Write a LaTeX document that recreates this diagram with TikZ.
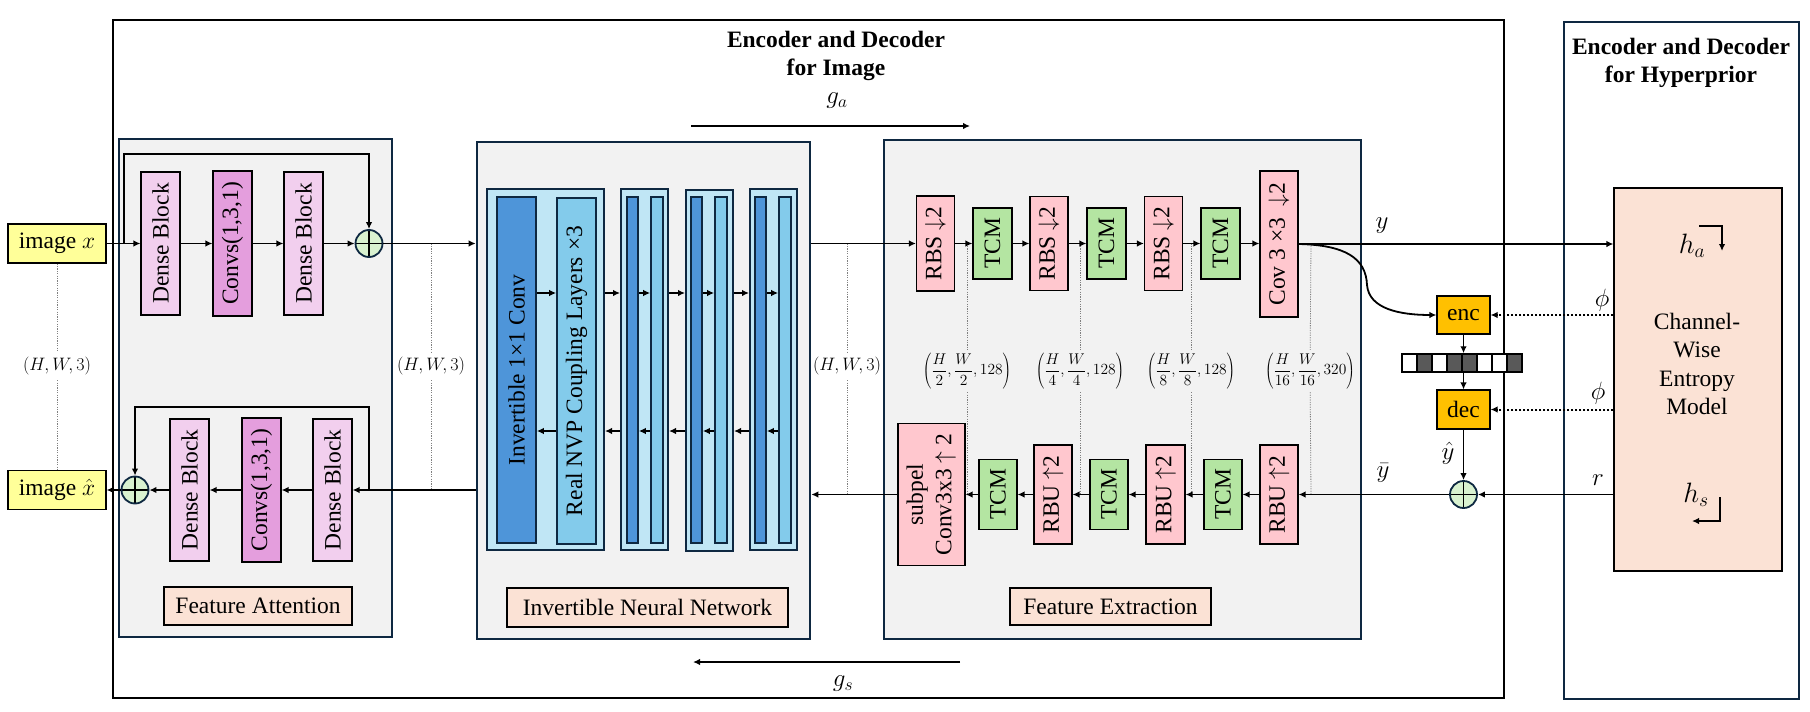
\documentclass[tikz,border=0pt]{standalone}
\usepackage{fix-cm}
\usepackage{graphicx}
\usepackage{fontspec}
\setmainfont{Liberation Serif}
\usetikzlibrary{arrows.meta}
\definecolor{navy}{HTML}{0E2841}
\definecolor{panelgray}{HTML}{F2F2F2}
\definecolor{dbpink}{HTML}{F2CFEE}
\definecolor{cvpink}{HTML}{E49EDD}
\definecolor{imgyel}{HTML}{FFFF99}
\definecolor{plusgreen}{HTML}{D9F2D0}
\definecolor{grpblue}{HTML}{C0E6F5}
\definecolor{darkblue}{HTML}{4E95D9}
\definecolor{midblue}{HTML}{83CBEB}
\definecolor{rbspink}{HTML}{FFC7CE}
\definecolor{tcmgreen}{HTML}{B4E5A2}
\definecolor{peach}{HTML}{FBE2D5}
\definecolor{encyel}{HTML}{FFC000}
\definecolor{bitdark}{HTML}{595959}
\newcommand\myfs{\fontsize{23.5}{28.5}\selectfont}
\newcommand\mathfs{\fontsize{25}{30}\selectfont}
\newcommand\hfs{\fontsize{28}{32}\selectfont}
\newcommand\lblfs{\fontsize{18}{21}\selectfont}
\newcommand\fracfs{\fontsize{15.5}{19}\selectfont}
\newcommand\rtxt[1]{\rotatebox{90}{#1}}
\newcommand\dimfrac[3]{$\displaystyle\left(\frac{H}{#1},\frac{W}{#2},#3\right)$}
\tikzset{
  every node/.style={font=\myfs},
  arr/.style={line width=1.8pt, -{Latex[length=7pt,width=6.5pt]}},
  dotln/.style={line width=0.8pt, gray, dash pattern=on 1.2pt off 1.2pt},
  dotarr/.style={line width=2pt, dash pattern=on 2pt off 2pt, -{Latex[length=7pt,width=6.5pt]}},
  outerbox/.style={draw=black, line width=2.6pt, fill=white, inner sep=0pt},
  hyperbox/.style={draw=navy, line width=2.6pt, fill=white, inner sep=0pt},
  panel/.style={draw=navy, line width=2.6pt, fill=panelgray, inner sep=0pt},
  blk/.style={draw=black, line width=1.1pt, inner sep=0pt},
  dense/.style={blk, fill=dbpink, minimum width=39pt},
  convs/.style={blk, fill=cvpink, minimum width=39pt},
  rbs/.style={blk, fill=rbspink, minimum width=38pt},
  tcm/.style={blk, fill=tcmgreen, minimum width=39pt, minimum height=71pt},
  grp/.style={draw=navy, line width=2pt, fill=grpblue, inner sep=0pt, minimum height=361pt},
  dbar/.style={draw=navy, line width=1.6pt, fill=darkblue, inner sep=0pt, minimum height=346pt},
  lbar/.style={draw=navy, line width=1.6pt, fill=midblue, inner sep=0pt, minimum height=346pt},
  tag/.style={draw=black, line width=1.1pt, fill=peach, inner sep=0pt},
  imgbox/.style={draw=black, line width=1.1pt, fill=imgyel, minimum width=98pt, minimum height=39pt, inner sep=0pt},
  plus/.style={circle, draw=navy, line width=1.8pt, fill=plusgreen, minimum size=27pt, inner sep=0pt,
     path picture={\draw[black, line width=1.8pt] (path picture bounding box.north) -- (path picture bounding box.south) (path picture bounding box.west) -- (path picture bounding box.east);}},
  coder/.style={draw=black, line width=1.1pt, fill=encyel, minimum width=53pt, minimum height=38pt, inner sep=0pt},
  bitw/.style={draw=black, line width=1.5pt, fill=white, minimum width=15pt, minimum height=18pt, inner sep=0pt},
  bitd/.style={bitw, fill=bitdark},
  dimlbl/.style={font=\lblfs, inner sep=5pt},
  fraclbl/.style={font=\fracfs, inner sep=3pt},
  mlbl/.style={font=\mathfs, inner sep=1pt},
  title/.style={font=\myfs\bfseries, align=center},
}
\begin{document}
\begin{tikzpicture}[x=1pt,y=-1pt]
\useasboundingbox (0,0) rectangle (1810,712);

% outer frames
\node[outerbox, minimum width=1391pt, minimum height=678pt] (encbox) at (808.5,359) {};
\node[hyperbox, minimum width=235pt, minimum height=677pt] (hypbox) at (1681.5,360.5) {};
\node[title] (t1) at (836,56) {Encoder and Decoder\\for Image};
\node[title] (t2) at (1681,63) {Encoder and Decoder\\for Hyperprior};

% panels
\node[panel, minimum width=273pt, minimum height=498pt] (fa) at (255.5,388) {};
\node[panel, minimum width=333pt, minimum height=497pt] (inn) at (643.5,390.5) {};
\node[panel, minimum width=477pt, minimum height=499pt] (fe) at (1122.5,389.5) {};

% image boxes
\node[imgbox] (imgx) at (57,243.5) {image $x$};
\node[imgbox] (imgxh) at (57,490) {image $\hat{x}$};

% Feature attention
\node[dense, minimum height=143pt] (db1) at (160.5,243.5) {\rtxt{Dense Block}};
\node[convs, minimum height=145pt] (cv1) at (232.5,243.5) {\rtxt{Convs(1,3,1)}};
\node[dense, minimum height=143pt] (db2) at (303.5,243.5) {\rtxt{Dense Block}};
\node[plus] (plus1) at (369,243.5) {};
\node[dense, minimum height=142pt] (db3) at (189.5,490) {\rtxt{Dense Block}};
\node[convs, minimum height=144pt] (cv2) at (261.5,490) {\rtxt{Convs(1,3,1)}};
\node[dense, minimum height=142pt] (db4) at (332.5,490) {\rtxt{Dense Block}};
\node[plus] (plus2) at (135,490) {};
\node[tag, minimum width=188pt, minimum height=38pt] (tagfa) at (258,606) {Feature Attention};

% INN
\node[grp, minimum width=117pt] (g1) at (545.5,369.5) {};
\node[dbar, minimum width=39pt] (inv) at (516.5,370) {\rtxt{Invertible 1×1 Conv}};
\node[lbar, minimum width=39pt] (nvp) at (576.5,371) {\rtxt{Real NVP Coupling Layers ×3}};
\node[grp, minimum width=47pt] (g2) at (644.5,369.5) {};
\node[dbar, minimum width=11pt] (d2) at (632.5,370) {};
\node[lbar, minimum width=12pt] (l2) at (657,370) {};
\node[grp, minimum width=47pt] (g3) at (709.5,370) {};
\node[dbar, minimum width=11pt] (d3) at (696.5,370) {};
\node[lbar, minimum width=12pt] (l3) at (721,370) {};
\node[grp, minimum width=47pt] (g4) at (773.5,369.5) {};
\node[dbar, minimum width=11pt] (d4) at (760.5,370) {};
\node[lbar, minimum width=12pt] (l4) at (785,370) {};
\node[tag, minimum width=281pt, minimum height=39pt] (taginn) at (647.5,607.5) {Invertible Neural Network};
\coordinate (fw) at (0,293);
\coordinate (bw) at (0,431);
\draw[arr] (inv.east |- fw) -- (nvp.west |- fw);
\draw[arr] (g1.east |- fw) -- (g2.west |- fw);
\draw[arr] (d2.east |- fw) -- (l2.west |- fw);
\draw[arr] (g2.east |- fw) -- (g3.west |- fw);
\draw[arr] (d3.east |- fw) -- (l3.west |- fw);
\draw[arr] (g3.east |- fw) -- (g4.west |- fw);
\draw[arr] (d4.east |- fw) -- (l4.west |- fw);
\draw[arr] (nvp.west |- bw) -- (inv.east |- bw);
\draw[arr] (g2.west |- bw) -- (g1.east |- bw);
\draw[arr] (l2.west |- bw) -- (d2.east |- bw);
\draw[arr] (g3.west |- bw) -- (g2.east |- bw);
\draw[arr] (l3.west |- bw) -- (d3.east |- bw);
\draw[arr] (g4.west |- bw) -- (g3.east |- bw);
\draw[arr] (l4.west |- bw) -- (d4.east |- bw);

% Feature extraction
\node[rbs, minimum height=95pt] (rbs1) at (935.5,243.5) {\rtxt{RBS $\downarrow$2}};
\node[tcm] (tcm1) at (992.5,243.5) {\rtxt{TCM}};
\node[rbs, minimum height=94pt] (rbs2) at (1049,243.5) {\rtxt{RBS $\downarrow$2}};
\node[tcm] (tcm2) at (1106.5,243.5) {\rtxt{TCM}};
\node[rbs, minimum height=94pt] (rbs3) at (1163.5,243.5) {\rtxt{RBS $\downarrow$2}};
\node[tcm] (tcm3) at (1220.5,243.5) {\rtxt{TCM}};
\node[rbs, minimum height=146pt] (cov) at (1279,244) {\rtxt{Cov 3 ×3~~$\downarrow$2}};
\node[rbs, minimum width=67pt, minimum height=142pt] (sub) at (931.5,494.5) {\rtxt{\begin{tabular}{@{}c@{}}subpel\\Conv3x3 $\uparrow$ 2\end{tabular}}};
\node[tcm, minimum width=38pt, minimum height=70pt] (tb1) at (998,494.5) {\rtxt{TCM}};
\node[rbs, minimum height=99pt] (rb1) at (1053,494.5) {\rtxt{RBU $\uparrow$2}};
\node[tcm, minimum width=38pt, minimum height=70pt] (tb2) at (1109,494.5) {\rtxt{TCM}};
\node[rbs, minimum width=39pt, minimum height=99pt] (rb2) at (1165.5,494.5) {\rtxt{RBU $\uparrow$2}};
\node[tcm, minimum width=38pt, minimum height=70pt] (tb3) at (1223,494.5) {\rtxt{TCM}};
\node[rbs, minimum height=99pt] (rb3) at (1279,494.5) {\rtxt{RBU $\uparrow$2}};
\node[tag, minimum width=201pt, minimum height=37pt] (tagfe) at (1110.5,606.5) {Feature Extraction};

% dimension labels and dotted guides
\node[dimlbl] (hw0) at (57,366) {$(H,W,3)$};
\draw[dotln] (imgx.south) -- (hw0);
\draw[dotln] (hw0) -- (imgxh.north);
\coordinate (hw1t) at (431,243.5);
\coordinate (hw1b) at (431,490);
\node[dimlbl] (hw1) at (431,366) {$(H,W,3)$};
\draw[dotln] (hw1t) -- (hw1);
\draw[dotln] (hw1) -- (hw1b);
\coordinate (hw2t) at (847,243.5);
\coordinate (hw2b) at (847,494.5);
\node[dimlbl] (hw2) at (847,366) {$(H,W,3)$};
\draw[dotln] (hw2t) -- (hw2);
\draw[dotln] (hw2) -- (hw2b);

\coordinate (v1t) at (967,243.5); \coordinate (v1b) at (967,494.5);
\coordinate (v2t) at (1080,243.5); \coordinate (v2b) at (1080,494.5);
\coordinate (v3t) at (1191,243.5); \coordinate (v3b) at (1191,494.5);
\coordinate (v4t) at (1311,243.5); \coordinate (v4b) at (1311,494.5);
\node[fraclbl] (f1) at (967,371) {\dimfrac{2}{2}{128}};
\node[fraclbl] (f2) at (1080,371) {\dimfrac{4}{4}{128}};
\node[fraclbl] (f3) at (1191,371) {\dimfrac{8}{8}{128}};
\node[fraclbl] (f4) at (1310,371) {\dimfrac{16}{16}{320}};
\draw[dotln] (v1t) -- (f1); \draw[dotln] (f1) -- (v1b);
\draw[dotln] (v2t) -- (f2); \draw[dotln] (f2) -- (v2b);
\draw[dotln] (v3t) -- (f3); \draw[dotln] (f3) -- (v3b);
\draw[dotln] (v4t) -- (f4); \draw[dotln] (f4) -- (v4b);

% FA connections
\coordinate (sk1) at (124,243.5);
\coordinate (sk1top) at (124,154);
\coordinate (sk2) at (369,490);
\coordinate (sk2top) at (369,407);
\draw[arr] (imgx.east) -- (db1.west);
\draw[arr] (sk1) -- (sk1top) -| (plus1.north);
\draw[arr] (db1.east) -- (cv1.west);
\draw[arr] (cv1.east) -- (db2.west);
\draw[arr] (db2.east) -- (plus1.west);
\draw[arr] (plus1.east) -- (plus1.east -| inn.west);
\draw[arr] (inn.west |- db4) -- (db4.east);
\draw[arr] (sk2) -- (sk2top) -| (plus2.north);
\draw[arr] (db4.west) -- (cv2.east);
\draw[arr] (cv2.west) -- (db3.east);
\draw[arr] (db3.west) -- (plus2.east);
\draw[arr] (plus2.west) -- (imgxh.east);

% FE connections
\draw[arr] (inn.east |- rbs1) -- (rbs1.west);
\draw[arr] (rbs1.east) -- (tcm1.west);
\draw[arr] (tcm1.east) -- (rbs2.west);
\draw[arr] (rbs2.east) -- (tcm2.west);
\draw[arr] (tcm2.east) -- (rbs3.west);
\draw[arr] (rbs3.east) -- (tcm3.west);
\draw[arr] (tcm3.east) -- (cov.west |- tcm3);
\draw[arr] (rb3.west) -- (tb3.east);
\draw[arr] (tb3.west) -- (rb2.east);
\draw[arr] (rb2.west) -- (tb2.east);
\draw[arr] (tb2.west) -- (rb1.east);
\draw[arr] (rb1.west) -- (tb1.east);
\draw[arr] (tb1.west) -- (sub.east);
\draw[arr] (sub.west) -- (sub.west -| inn.east);

% hyperprior side
\node[blk, fill=peach, minimum width=168pt, minimum height=383pt] (chan) at (1698,379.5) {};
\node[align=center] (chtxt) at (1697,364) {Channel-\\Wise\\Entropy\\Model};
\node[font=\hfs] (ha) at (1692,246) {$h_a$};
\node[font=\hfs] (hs) at (1696,495) {$h_s$};
\coordinate (ha1) at (1699,226);
\coordinate (ha2) at (1722,251);
\draw[arr] (ha1) -| (ha2);
\coordinate (hs1) at (1720,497);
\coordinate (hs2) at (1692,521);
\draw[arr] (hs1) |- (hs2);

\node[coder] (enc) at (1463.5,315) {enc};
\node[coder, minimum height=39pt] (dec) at (1463.5,409.5) {dec};
\node[bitw] (c1) at (1409.5,363) {};
\node[bitd] (c2) at (1424.5,363) {};
\node[bitw] (c3) at (1439.5,363) {};
\node[bitd] (c4) at (1454.5,363) {};
\node[bitd] (c5) at (1469.5,363) {};
\node[bitw] (c6) at (1484.5,363) {};
\node[bitw] (c7) at (1499.5,363) {};
\node[bitd] (c8) at (1514.5,363) {};
\node[plus] (plus3) at (1463.5,494.5) {};

\draw[arr] (enc.south) -- (enc.south |- c5.north);
\draw[arr] (enc.south |- c5.south) -- (dec.north);
\draw[arr] (dec.south) -- (plus3.north);
\draw[arr] (cov.east) -- (cov.east -| chan.west);
\coordinate (cmid) at (1367,285);
\draw[arr] (cov.east) .. controls (1345,245) and (1366,258) .. (cmid) .. controls (1369,309) and (1400,315) .. (enc.west);
\draw[dotarr] (chan.west |- enc) -- (enc.east);
\draw[dotarr] (chan.west |- dec) -- (dec.east);
\draw[arr] (chan.west |- plus3) -- (plus3.east);
\draw[arr] (plus3.west) -- (rb3.east);

\node[mlbl] (ylbl) at (1382,226) {$y$};
\node[mlbl] (ybar) at (1383,473) {$\bar{y}$};
\node[mlbl] (yhat) at (1448,453) {$\hat{y}$};
\node[mlbl] (phi1) at (1602,300) {$\phi$};
\node[mlbl] (phi2) at (1598,393) {$\phi$};
\node[mlbl] (rlbl) at (1598,480) {$r$};

% g_a / g_s
\coordinate (ga1) at (691,126);
\coordinate (ga2) at (970,126);
\draw[arr] (ga1) -- (ga2);
\node[mlbl] (galbl) at (837,101) {$g_a$};
\coordinate (gs1) at (960,662);
\coordinate (gs2) at (693,662);
\draw[arr] (gs1) -- (gs2);
\node[mlbl] (gslbl) at (843,684) {$g_s$};
\end{tikzpicture}
\end{document}
